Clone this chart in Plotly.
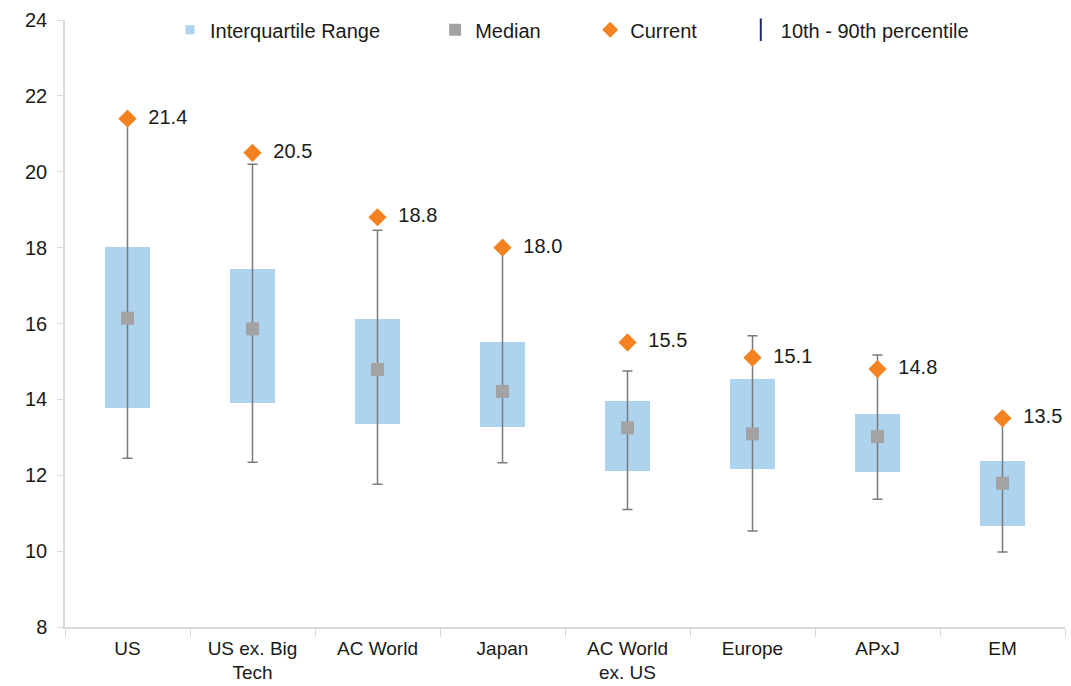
import plotly.graph_objects as go

categories = ["US", "US ex. Big<br>Tech", "AC World", "Japan", "AC World<br>ex. US", "Europe", "APxJ", "EM"]
p10 = [12.45, 12.34, 11.76, 12.33, 11.10, 10.53, 11.37, 9.98]
q1 = [13.77, 13.90, 13.35, 13.27, 12.12, 12.16, 12.09, 10.67]
median = [16.14, 15.86, 14.79, 14.21, 13.25, 13.09, 13.02, 11.79]
q3 = [18.02, 17.44, 16.11, 15.52, 13.96, 14.53, 13.61, 12.38]
p90 = [21.4, 20.2, 18.46, 18.0, 14.75, 15.68, 15.17, 13.5]
current = [21.4, 20.5, 18.8, 18.0, 15.5, 15.1, 14.8, 13.5]

FONT = "Liberation Sans, Arial, sans-serif"
TEXT = "#1A1A1A"
BLUE = "#AED3EF"
GREY = "#A3A3A3"
ORANGE = "#F58220"
WHISKER = "#7A7A7A"
NAVY = "#1F2A6B"
NB = "\u00a0"

fig = go.Figure()

# interquartile boxes
fig.add_trace(go.Bar(
    x=categories, y=[b - a for a, b in zip(q1, q3)], base=q1,
    width=0.36, marker=dict(color=BLUE, line=dict(width=0)),
    showlegend=False, hoverinfo="skip",
))

# 10th-90th percentile whiskers
fig.add_trace(go.Scatter(
    x=categories, y=median, mode="markers",
    marker=dict(size=1, opacity=0),
    error_y=dict(type="data", symmetric=False,
                 array=[h - m for h, m in zip(p90, median)],
                 arrayminus=[m - l for m, l in zip(median, p10)],
                 color=WHISKER, thickness=1.5, width=5),
    showlegend=False, hoverinfo="skip",
))

# medians
fig.add_trace(go.Scatter(
    x=categories, y=median, mode="markers", showlegend=False,
    marker=dict(symbol="square", size=13, color=GREY),
))

# current values with labels
fig.add_trace(go.Scatter(
    x=categories, y=current, mode="markers+text", showlegend=False,
    marker=dict(symbol="diamond", size=14, color=ORANGE),
    text=[NB * 2 + f"{v:.1f}" for v in current], textposition="middle right",
    textfont=dict(family=FONT, size=20, color=TEXT),
))

# legend entries
legend_items = [
    ("Interquartile Range", "square", 7, BLUE, 9),
    ("Median", "square", 10, GREY, 8),
    ("Current", "diamond", 10, ORANGE, 7),
    ("10th - 90th percentile", "line-ns-open", 16, NAVY, 0),
]
for name, sym, size, col, pad in legend_items:
    fig.add_trace(go.Scatter(
        x=[None], y=[None], mode="markers", name=name + NB * pad,
        marker=dict(symbol=sym, size=size, color=col, line=dict(width=2, color=col)),
    ))

fig.update_layout(
    width=1071, height=686,
    margin=dict(l=65, r=6, t=20, b=59),
    paper_bgcolor="white", plot_bgcolor="white",
    font=dict(family=FONT, size=20, color=TEXT),
    bargap=0,
    legend=dict(orientation="h", x=0.105, y=1.016, xanchor="left", yanchor="top",
                font=dict(family=FONT, size=20, color=TEXT),
                itemsizing="trace", itemwidth=30, bgcolor="rgba(0,0,0,0)",
                traceorder="normal"),
    xaxis=dict(
        showline=True, linecolor="#D9D9D9", linewidth=1.5,
        ticks="outside", tickson="boundaries", ticklen=8, tickcolor="#D9D9D9",
        tickfont=dict(family=FONT, size=19, color=TEXT),
        ticklabelstandoff=3, automargin=False,
        showgrid=False, range=[-0.5, 7.5],
    ),
    yaxis=dict(
        range=[8, 24], dtick=2, tick0=8,
        showline=True, linecolor="#D9D9D9", linewidth=1.5,
        ticks="outside", ticklen=6, tickcolor="#D9D9D9",
        tickfont=dict(family=FONT, size=20, color=TEXT),
        ticklabelstandoff=6, automargin=False,
        showgrid=False, zeroline=False,
    ),
)

fig.write_html("out.html")
